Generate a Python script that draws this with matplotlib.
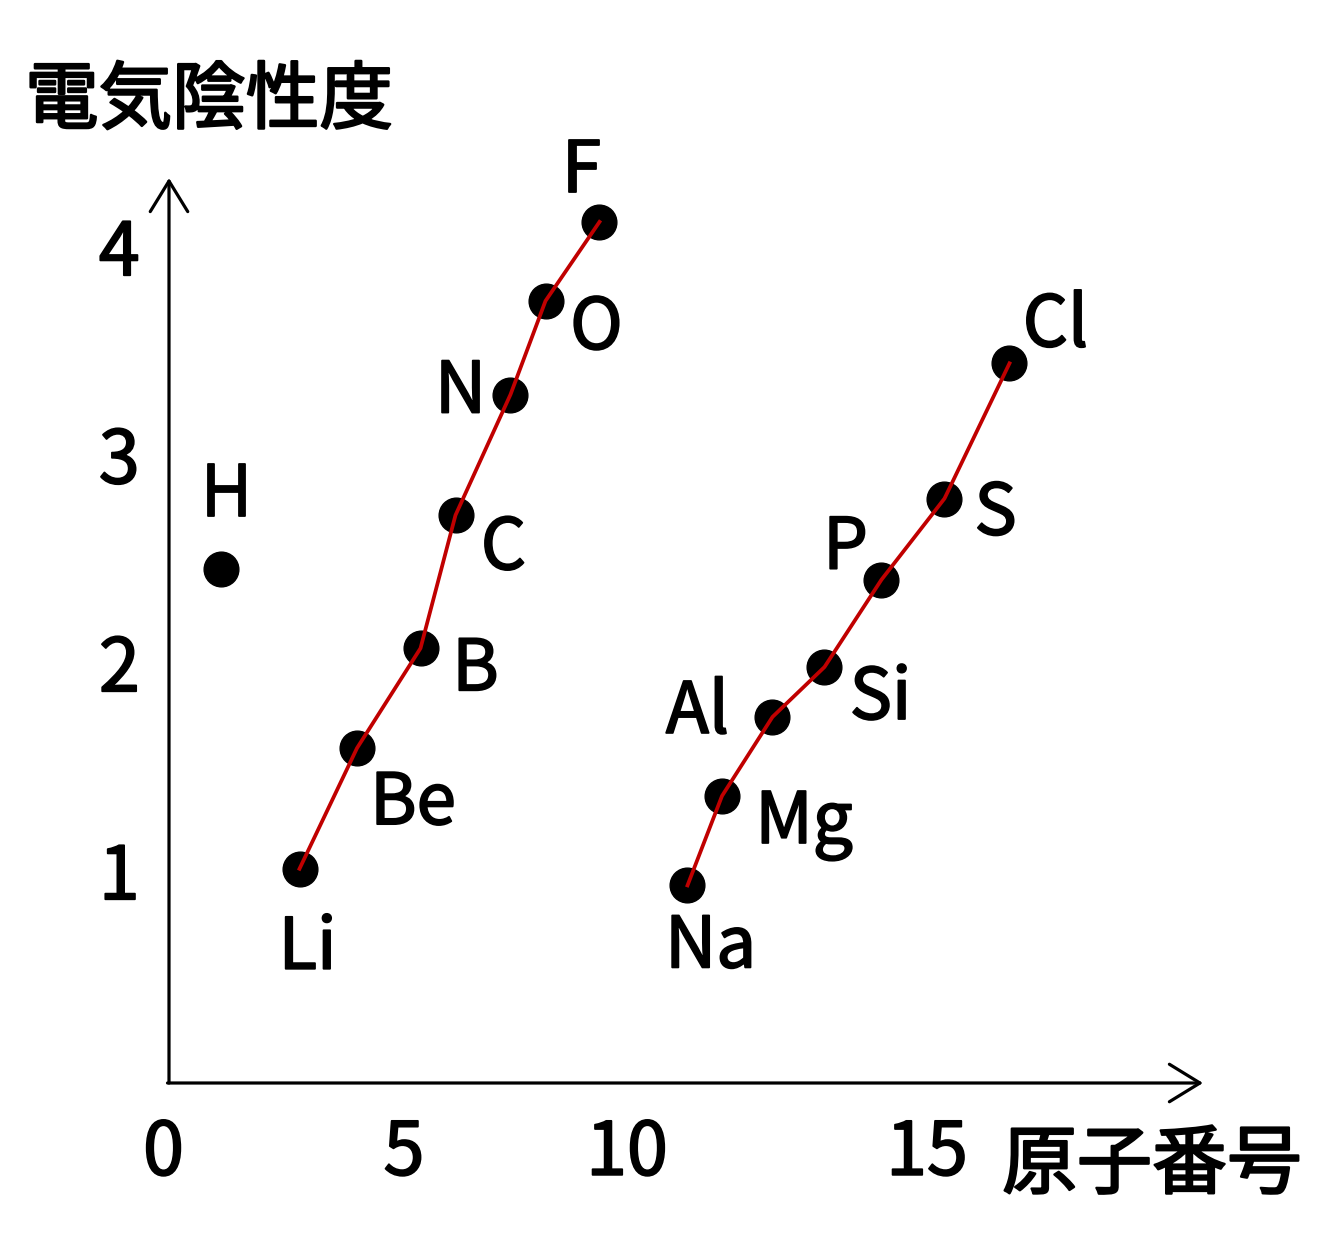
import matplotlib
matplotlib.use('Agg')
import matplotlib.pyplot as plt
import matplotlib.patheffects as pe
import matplotlib.transforms as mtransforms

plt.rcParams['font.family'] = ['Noto Sans CJK JP', 'DejaVu Sans']

# 値は図から読み取ったもの (横軸は図上の位置, 縦軸は電気陰性度)
period2_names = ['Li', 'Be', 'B', 'C', 'N', 'O', 'F']
period2_x = [2.61, 3.76, 5.03, 5.73, 6.83, 7.53, 8.61]
period2_y = [1.03, 1.61, 2.09, 2.73, 3.31, 3.76, 4.14]

period3_names = ['Na', 'Mg', 'Al', 'Si', 'P', 'S', 'Cl']
period3_x = [10.37, 11.06, 12.07, 13.11, 14.25, 15.51, 16.81]
period3_y = [0.95, 1.38, 1.76, 2.00, 2.42, 2.81, 3.46]

h_name = 'H'
h_x = 1.03
h_y = 2.47

xtick_pos = [-0.11, 4.7, 9.16, 15.16]
xtick_labels = ['0', '5', '10', '15']
ytick_pos = [1, 2, 3, 4]
ytick_labels = ['1', '2', '3', '4']

# ラベルの位置 (点からのずれ, ピクセル)
label_offsets = {
    'H': (6, 53), 'Li': (8, -100), 'Be': (56, -76), 'B': (55, -42),
    'C': (48, -54), 'N': (-50, -18), 'O': (51, -48), 'F': (-18, 30),
    'Na': (23, -82), 'Mg': (82, -47), 'Al': (-75, -16), 'Si': (56, -52),
    'P': (-36, 11), 'S': (51, -36), 'Cl': (46, 17),
}

thick = [pe.withStroke(linewidth=1.3, foreground='black')]

W, H = 1333, 1250
fig = plt.figure(figsize=(W / 100, H / 100), dpi=100)
x0, y0, xtip, ytip = 169, 1083, 1203, 178
left = 155
ax = fig.add_axes([left / W, (H - y0) / H, (xtip - left) / W, (y0 - ytip) / H])
xmin = -(x0 - left) / 50
xmax = (xtip - x0) / 50
ymax = (y0 - ytip) / 208

ax.set_xticks(xtick_pos, xtick_labels)
ax.set_yticks(ytick_pos, ytick_labels)
ax.set_xlim(xmin, xmax)
ax.set_ylim(0, ymax)
ax.tick_params(axis='both', length=0, labelsize=53)
ax.tick_params(axis='y', pad=11)
ax.tick_params(axis='x', pad=24)
for lab in ax.get_xticklabels() + ax.get_yticklabels():
    lab.set_path_effects(thick)
# 縦軸の数字を少し上へ
up = mtransforms.ScaledTranslation(0, 5 / 100, fig.dpi_scale_trans)
for lab in ax.get_yticklabels():
    lab.set_transform(lab.get_transform() + up)

for s in ax.spines.values():
    s.set_visible(False)

# 矢印つきの軸
arrow = dict(arrowstyle='->,head_length=2.2,head_width=1.35', lw=2.3, color='black',
             mutation_scale=10, shrinkA=0, shrinkB=0)
ax.annotate('', xy=(xmax, 0), xytext=(-0.03, 0), arrowprops=arrow, annotation_clip=False)
ax.annotate('', xy=(0, ymax), xytext=(0, 0), arrowprops=arrow, annotation_clip=False)

# 点と折れ線
dot = dict(marker='o', markersize=25, color='black', linestyle='none', zorder=3)
ax.plot(period2_x, period2_y, **dot)
ax.plot(period3_x, period3_y, **dot)
ax.plot([h_x], [h_y], **dot)
ax.plot(period2_x, period2_y, color='#c00000', lw=2.7, zorder=4)
ax.plot(period3_x, period3_y, color='#c00000', lw=2.7, zorder=4)

names = [h_name] + period2_names + period3_names
xs = [h_x] + period2_x + period3_x
ys = [h_y] + period2_y + period3_y
for name, x, y in zip(names, xs, ys):
    ax.annotate(name, (x, y), xytext=label_offsets[name], textcoords='offset pixels',
                ha='center', va='baseline', fontsize=51, annotation_clip=False,
                path_effects=thick)

fig.text(25 / W, 1 - 102 / H, '電気陰性度', fontsize=53, ha='left', va='center',
         path_effects=[pe.withStroke(linewidth=1.7, foreground='black')])
fig.text(1152 / W, 1 - 1166 / H, '原子番号', fontsize=54, ha='center', va='center',
         path_effects=[pe.withStroke(linewidth=1.7, foreground='black')])

fig.savefig('out.png', dpi=100)
